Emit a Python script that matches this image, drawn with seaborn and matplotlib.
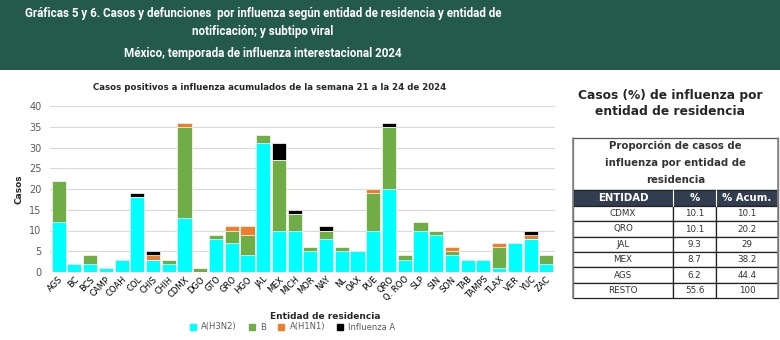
import matplotlib
matplotlib.use("Agg")
import matplotlib.pyplot as plt
import seaborn as sns
import pandas as pd
import numpy as np
from matplotlib.patches import Rectangle
from matplotlib.lines import Line2D

# ---------------- data ----------------
states = ["AGS", "BC", "BCS", "CAMP", "COAH", "COL", "CHIS", "CHIH", "CDMX", "DGO",
          "GTO", "GRO", "HGO", "JAL", "MEX", "MICH", "MOR", "NAY", "NL", "OAX",
          "PUE", "QRO", "Q. ROO", "SLP", "SIN", "SON", "TAB", "TAMPS", "TLAX", "VER",
          "YUC", "ZAC"]
h3n2 = [12, 2, 2, 1, 3, 18, 3, 2, 13, 0, 8, 7, 4, 31, 10, 10, 5, 8, 5, 5,
        10, 20, 3, 10, 9, 4, 3, 3, 1, 7, 8, 2]
flu_b = [10, 0, 2, 0, 0, 0, 0, 1, 22, 1, 1, 3, 5, 2, 17, 4, 1, 2, 1, 0,
         9, 15, 1, 2, 1, 1, 0, 0, 5, 0, 0, 2]
h1n1 = [0, 0, 0, 0, 0, 0, 1, 0, 1, 0, 0, 1, 2, 0, 0, 0, 0, 0, 0, 0,
        1, 0, 0, 0, 0, 1, 0, 0, 1, 0, 1, 0]
flu_a = [0, 0, 0, 0, 0, 1, 1, 0, 0, 0, 0, 0, 0, 0, 4, 1, 0, 1, 0, 0,
         0, 1, 0, 0, 0, 0, 0, 0, 0, 0, 1, 0]
series_names = ["A(H3N2)", "B", "A(H1N1)", "Influenza A"]
series_colors = ["#00FFFF", "#70AD47", "#ED7D31", "#000000"]

table_entities = ["CDMX", "QRO", "JAL", "MEX", "AGS", "RESTO"]
table_pct = ["10.1", "10.1", "9.3", "8.7", "6.2", "55.6"]
table_cum = ["10.1", "20.2", "29", "38.2", "44.4", "100"]

# ---------------- figure ----------------
sns.set_theme(style="white")
plt.rcParams["font.family"] = ["DejaVu Sans"]
W, H = 780, 340
fig = plt.figure(figsize=(W / 100, H / 100), dpi=100)

def fx(px):
    return px / W

def fy(py):
    return 1 - py / H

# header band
band = Rectangle((0, fy(70)), 1, 70 / H, transform=fig.transFigure,
                 facecolor="#235A4B", edgecolor="none", zorder=0)
fig.patches.append(band)
for yy, line in [(14, "Gráficas 5 y 6. Casos y defunciones  por influenza según entidad de residencia y entidad de"),
                 (32, "notificación; y subtipo viral"),
                 (53, "México, temporada de influenza interestacional 2024")]:
    fig.text(fx(263), fy(yy), line, ha="center", va="center", color="white",
             fontsize=8.4, fontweight="bold", family=["Roboto"])

# ---------------- bar chart ----------------
ax = fig.add_axes([fx(50), fy(272), fx(555) - fx(50), fy(106) - fy(272)])
df = pd.DataFrame({"Entidad": states, "A(H3N2)": h3n2, "B": flu_b,
                   "A(H1N1)": h1n1, "Influenza A": flu_a})
cum = df[series_names].cumsum(axis=1)
for i in range(len(series_names) - 1, -1, -1):
    name = series_names[i]
    d = pd.DataFrame({"Entidad": states, "v": cum[name]})
    sns.barplot(data=d, x="Entidad", y="v", color=series_colors[i], saturation=1,
                width=0.9, edgecolor="white", linewidth=0.5, ax=ax, zorder=2)

ax.set_ylim(0, 40)
ax.set_xlim(-0.55, len(states) - 0.45)
ax.set_yticks(range(0, 41, 5))
ax.yaxis.grid(True, color="#D9D9D9", linewidth=0.8, zorder=0)
ax.set_axisbelow(True)
for s in ax.spines.values():
    s.set_visible(False)
ax.tick_params(axis="y", labelsize=7, colors="#595959", length=0, pad=6)
ax.tick_params(axis="x", labelsize=6, colors="#000000", length=0, pad=2)
plt.setp(ax.get_xticklabels(), rotation=45, ha="right", rotation_mode="anchor")
ax.set_xlabel("Entidad de residencia", fontsize=6.5, fontweight="bold")
ax.xaxis.set_label_coords((325 - 50) / 505, -0.24)
ax.set_ylabel("Casos", fontsize=6.5, fontweight="bold", labelpad=4)

fig.text(fx(270), fy(87), "Casos positivos a influenza acumulados de la semana 21 a la 24 de 2024",
         ha="center", va="center", fontsize=6.2, fontweight="bold")

handles = [Line2D([0], [0], marker="s", linestyle="none", markersize=4,
                  markerfacecolor=c, markeredgecolor=c) for c in series_colors]
fig.legend(handles, series_names, loc="center", bbox_to_anchor=(fx(290), fy(327)),
           ncol=4, frameon=False, fontsize=6, handletextpad=0.0, columnspacing=0.8,
           labelcolor="#595959")

# ---------------- right title ----------------
fig.text(fx(670), fy(95), "Casos (%) de influenza por", ha="center", va="center",
         fontsize=8.8, fontweight="bold")
fig.text(fx(670), fy(112), "entidad de residencia", ha="center", va="center",
         fontsize=8.8, fontweight="bold")

# ---------------- table ----------------
tx0, tx1, ty0, ty1 = 573, 778, 138, 298
tax = fig.add_axes([fx(tx0), fy(ty1), fx(tx1) - fx(tx0), fy(ty0) - fy(ty1)])
tax.set_xlim(tx0, tx1)
tax.set_ylim(ty1, ty0)
tax.axis("off")
c1, c2 = 673, 716
head_bot = 190
hdr_bot = 206
row_h = (ty1 - hdr_bot) / len(table_entities)
lw = 0.9
tax.add_patch(Rectangle((tx0, ty0), tx1 - tx0, head_bot - ty0, facecolor="white",
                        edgecolor="#555555", linewidth=lw, clip_on=False))
for k, line in enumerate(["Proporción de casos de", "influenza por entidad de", "residencia"]):
    tax.text((tx0 + tx1) / 2, ty0 + 8 + k * 17, line, ha="center", va="center",
             fontsize=7.3, fontweight="bold", color="#333333")
tax.add_patch(Rectangle((tx0, head_bot), tx1 - tx0, hdr_bot - head_bot, facecolor="#323E4F",
                        edgecolor="#222222", linewidth=lw, clip_on=False))
for xa, xb, lab in [(tx0, c1, "ENTIDAD"), (c1, c2, "%"), (c2, tx1, "% Acum.")]:
    tax.text((xa + xb) / 2, (head_bot + hdr_bot) / 2, lab, ha="center", va="center",
             fontsize=7.3, fontweight="bold", color="white")
tax.plot([c1, c1], [head_bot, hdr_bot], color="white", linewidth=0.8)
tax.plot([c2, c2], [head_bot, hdr_bot], color="white", linewidth=0.8)
for r, (e, p, cu) in enumerate(zip(table_entities, table_pct, table_cum)):
    y0 = hdr_bot + r * row_h
    for xa, xb, lab in [(tx0, c1, e), (c1, c2, p), (c2, tx1, cu)]:
        tax.add_patch(Rectangle((xa, y0), xb - xa, row_h, facecolor="white",
                                edgecolor="#222222", linewidth=lw, clip_on=False))
        tax.text((xa + xb) / 2, y0 + row_h / 2, lab, ha="center", va="center",
                 fontsize=6.3, color="#333333")
tax.plot([tx0, tx0], [ty0, ty1], color="#888888", linewidth=1.2, clip_on=False)
tax.plot([tx1, tx1], [ty0, ty1], color="#888888", linewidth=1.2, clip_on=False)

fig.savefig("out.png", dpi=100)
